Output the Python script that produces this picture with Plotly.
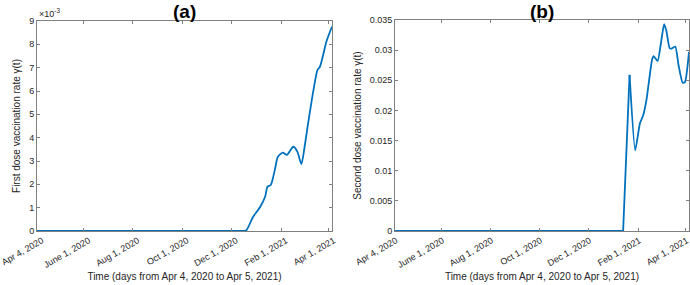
import plotly.graph_objects as go

# ---- data ----
dates_a = ["2020-04-04", "2020-12-17", "2020-12-20", "2020-12-28", "2021-01-06", "2021-01-12",
           "2021-01-15", "2021-01-19", "2021-01-24", "2021-01-28", "2021-02-03", "2021-02-08",
           "2021-02-16", "2021-02-21", "2021-02-26", "2021-03-02", "2021-03-07", "2021-03-13",
           "2021-03-18", "2021-03-21", "2021-03-25", "2021-03-29", "2021-04-05"]
first_dose_e3 = [0, 0, 0.04, 0.6, 1.04, 1.47, 1.9, 1.97, 2.61, 3.19, 3.36, 3.26,
                 3.61, 3.4, 2.87, 3.61, 4.76, 6.04, 6.9, 7.04, 7.54, 8.11, 8.76]

dates_b = ["2020-04-04", "2021-01-13", "2021-01-21", "2021-01-28", "2021-02-03", "2021-02-07",
           "2021-02-11", "2021-02-18", "2021-02-20", "2021-02-25", "2021-03-01", "2021-03-05",
           "2021-03-08", "2021-03-12", "2021-03-15", "2021-03-19", "2021-03-23", "2021-03-28",
           "2021-03-31", "2021-04-05"]
second_dose = [0, 0, 0.0259, 0.0134, 0.0179, 0.0192, 0.0217, 0.0284, 0.029, 0.0282, 0.0311,
               0.0343, 0.0331, 0.0303, 0.0303, 0.0306, 0.0275, 0.0246, 0.0247, 0.0297]

xtick_vals = ["2020-04-04", "2020-06-01", "2020-08-01", "2020-10-01", "2020-12-01", "2021-02-01", "2021-04-01"]
xtick_text = ["Apr 4, 2020", "June 1, 2020", "Aug 1, 2020", "Oct 1, 2020", "Dec 1, 2020", "Feb 1, 2021", "Apr 1, 2021"]
ytick_a = [0, 1, 2, 3, 4, 5, 6, 7, 8, 9]
ytick_b = [0, 0.005, 0.01, 0.015, 0.02, 0.025, 0.03, 0.035]
ytick_b_text = ["0", "0.005", "0.01", "0.015", "0.02", "0.025", "0.03", "0.035"]

FONT = "Liberation Sans, Arial, sans-serif"
LINE = "#0072BD"
AX = "#808080"
TXT = "#262626"

fig = go.Figure()
# flat (zero) part drawn straight, the rest smoothed
fig.add_trace(go.Scatter(x=dates_a[:2], y=first_dose_e3[:2], mode="lines",
                         line=dict(color=LINE, width=1.8), xaxis="x", yaxis="y", showlegend=False))
fig.add_trace(go.Scatter(x=dates_a[1:], y=first_dose_e3[1:], mode="lines",
                         line=dict(color=LINE, width=1.8, shape="spline", smoothing=0.7),
                         xaxis="x", yaxis="y", showlegend=False))
fig.add_trace(go.Scatter(x=dates_b[:3], y=second_dose[:3], mode="lines",
                         line=dict(color=LINE, width=1.8), xaxis="x2", yaxis="y2", showlegend=False))
fig.add_trace(go.Scatter(x=dates_b[2:], y=second_dose[2:], mode="lines",
                         line=dict(color=LINE, width=1.8, shape="spline", smoothing=0.5),
                         xaxis="x2", yaxis="y2", showlegend=False))

common_x = dict(type="date", range=["2020-04-04", "2021-04-05"], tickvals=xtick_vals, ticktext=xtick_text,
                tickangle=-30, ticks="inside", ticklen=3, tickcolor=AX, showline=True, linecolor=AX,
                linewidth=1, mirror="ticks", showgrid=False, zeroline=False, automargin=False,
                ticklabeloverflow="allow",
                tickfont=dict(family=FONT, size=9, color=TXT),
                title=dict(text="Time (days from Apr 4, 2020 to Apr 5, 2021)",
                           font=dict(family=FONT, size=10, color=TXT), standoff=4))
common_y = dict(ticks="inside", ticklen=3, tickcolor=AX, showline=True, linecolor=AX, linewidth=1,
                mirror="ticks", showgrid=False, zeroline=False, automargin=False,
                tickfont=dict(family=FONT, size=9, color=TXT))

fig.update_layout(
    width=690, height=285, margin=dict(l=0, r=0, t=0, b=0),
    paper_bgcolor="white", plot_bgcolor="white",
    xaxis=dict(domain=[37/690, 332/690], anchor="y", ticklabelshift=5, **common_x),
    yaxis=dict(domain=[54/285, 264/285], anchor="x", range=[0, 9], tickvals=ytick_a,
               title=dict(text="First dose vaccination rate γ(t)", font=dict(family=FONT, size=10, color=TXT),
                          standoff=6),
               **common_y),
    xaxis2=dict(domain=[395/690, 689/690], anchor="y2", ticklabelshift=1, **common_x),
    yaxis2=dict(domain=[54/285, 265/285], anchor="x2", range=[0, 0.035], tickvals=ytick_b,
                ticktext=ytick_b_text,
                title=dict(text="Second dose vaccination rate γ(t)", font=dict(family=FONT, size=10, color=TXT),
                           standoff=6),
                **common_y),
    annotations=[
        dict(text="<b>(a)</b>", x=(37 + 332) / 2 / 690, y=1.0, xref="paper", yref="paper", yshift=1,
             xanchor="center", yanchor="top", showarrow=False, font=dict(family=FONT, size=19, color="black")),
        dict(text="<b>(b)</b>", x=(395 + 689) / 2 / 690, y=1.0, xref="paper", yref="paper", yshift=1,
             xanchor="center", yanchor="top", showarrow=False, font=dict(family=FONT, size=19, color="black")),
        dict(text="×10<sup>-3</sup>", x=37 / 690, y=264 / 285, xref="paper", yref="paper",
             xanchor="left", yanchor="bottom", showarrow=False, font=dict(family=FONT, size=9, color=TXT)),
    ],
)

fig.write_html("out.html", config={"displayModeBar": False},
               post_script="document.body.style.margin='0';document.body.style.padding='0';")
